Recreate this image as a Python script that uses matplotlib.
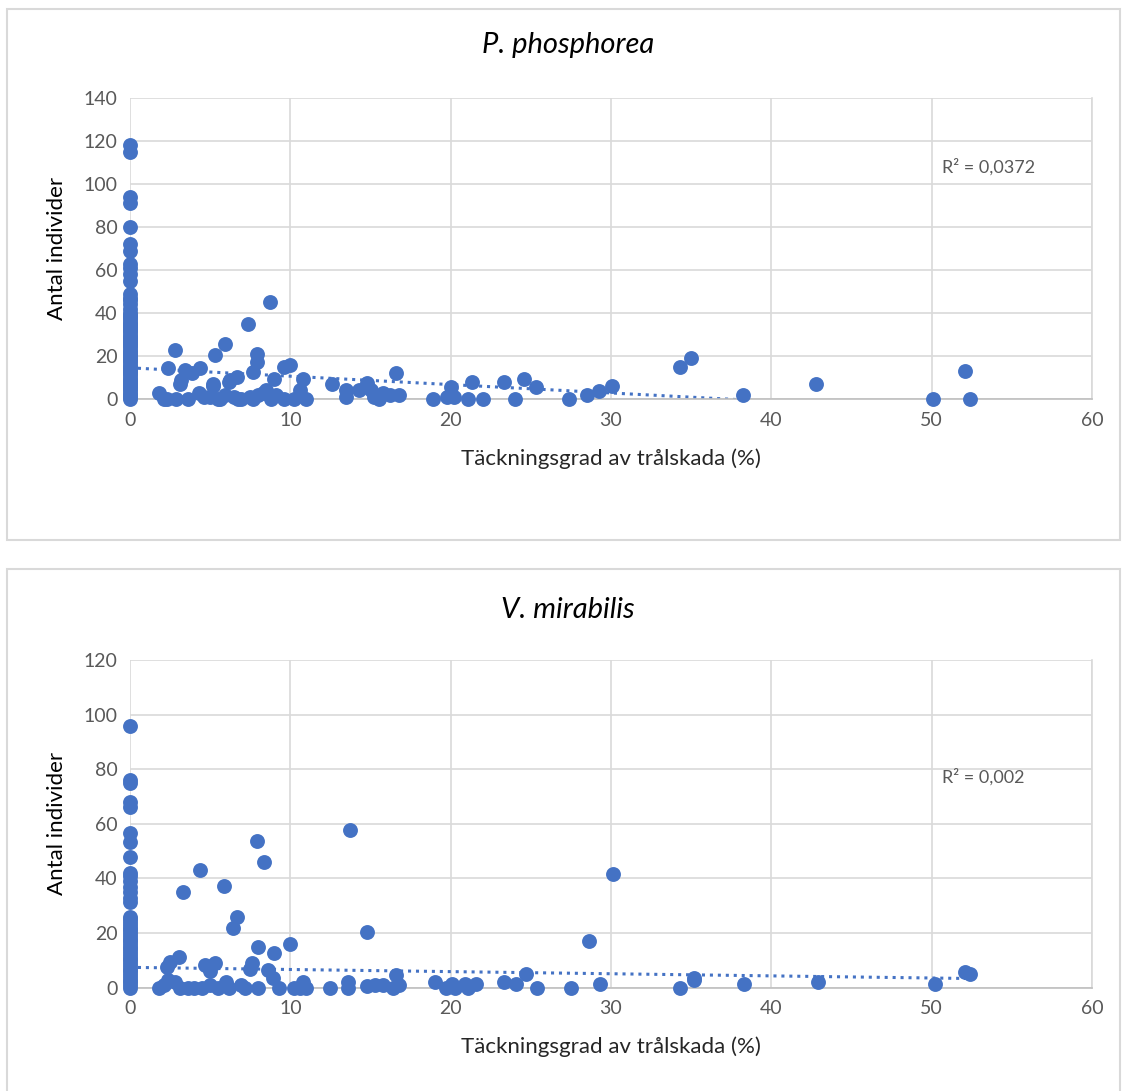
import numpy as np
import matplotlib.pyplot as plt
from matplotlib.patches import Rectangle

plt.rcParams['font.family'] = ['Lato', 'DejaVu Sans']

# --- P. phosphorea ---
pp_zero_y = [118, 115, 94, 91, 80, 72, 69, 63, 61, 58, 55, 49, 47, 46, 44, 42, 40, 39,
             38, 37, 36, 35, 34, 33, 32, 31, 30, 29, 28, 27, 26, 25, 24, 23, 22, 21,
             20, 19, 18, 17, 16, 15, 14, 13, 12, 11, 10, 9, 8, 7, 6, 5, 4, 3, 2, 1, 0]
pp_x = [1.8, 2.1, 2.3, 2.4, 2.8, 2.9, 3.1, 3.2, 3.4, 3.6, 3.85, 4.3, 4.37, 4.6, 5.0, 5.2,
        5.2, 5.3, 5.5, 5.6, 5.9, 5.9, 6.2, 6.24, 6.5, 6.65, 6.75, 6.9, 7.38, 7.5, 7.7, 7.7,
        7.9, 7.95, 8.0, 8.3, 8.5, 8.73, 8.8, 9.0, 9.1, 9.6, 9.6, 10.0, 10.2, 10.6, 10.77,
        11.0, 12.6, 13.5, 13.5, 14.3, 14.8, 15.0, 15.2, 15.5, 15.8, 16.2, 16.6, 16.8, 18.9,
        19.76, 20.0, 20.2, 21.1, 21.3, 22.0, 23.3, 24.0, 24.6, 25.3, 27.4, 28.5, 29.25,
        30.05, 34.3, 35.0, 38.26, 42.8, 50.1, 52.1, 52.4]
pp_y = [2.6, 0, 0, 14.3, 23, 0, 7, 9, 13.5, 0, 12, 3, 14.3, 1, 1, 7.2,
        6, 20.3, 0, 0, 25.4, 2, 8, 9, 1, 10.4, 0, 0, 35, 1, 0, 12.7,
        21, 17.4, 2, 3, 4, 45, 0, 9.3, 2, 15, 0, 16, 0, 4.2, 9.3,
        0, 7, 4.2, 1, 4, 7.3, 4, 1, 0, 2.6, 2, 12.2, 2, 0,
        0.8, 5.7, 0.8, 0, 8, 0, 8, 0, 9.3, 5.7, 0, 1.9, 3.7,
        6, 14.7, 19, 1.9, 6.8, 0, 13, 0]
pp_trend = (14.5, -0.39)   # intercept, slope
pp_r2 = "R² = 0,0372"

# --- V. mirabilis ---
vm_zero_y = [96, 76, 75, 68, 66, 56.5, 53.5, 48, 42, 41, 39, 37, 35, 33, 31.5, 26, 25,
             24, 23, 22, 21, 20, 19, 18, 17, 16, 15, 14, 13, 12, 11, 10, 9, 8, 7, 6, 5,
             4, 3, 2, 1, 0]
vm_x = [1.8, 2.1, 2.3, 2.4, 2.5, 2.8, 3.07, 3.1, 3.28, 3.6, 4.0, 4.37, 4.5, 4.68, 5.0, 5.0,
        5.3, 5.5, 5.88, 6.0, 6.2, 6.4, 6.65, 6.9, 7.2, 7.5, 7.6, 7.9, 7.97, 8.0, 8.36, 8.6,
        8.9, 9.0, 9.3, 9.98, 10.2, 10.6, 10.8, 11.0, 12.5, 13.6, 13.6, 13.72, 14.77, 14.8,
        15.3, 15.8, 16.4, 16.6, 16.8, 19.0, 19.7, 20.1, 20.3, 20.9, 21.1, 21.6, 23.3, 24.1,
        24.7, 25.4, 27.5, 28.6, 29.3, 30.13, 34.3, 35.2, 35.2, 38.3, 42.9, 50.2, 52.1, 52.4]
vm_y = [0, 1, 7.5, 3, 9.5, 2, 11.4, 0, 35.2, 0, 0, 43.1, 0, 8.3, 6, 1,
        9.2, 0, 37.3, 2, 0, 22, 25.8, 1, 0, 7, 9.2, 53.9, 15, 0, 46.2, 6.5,
        3.5, 12.8, 0, 16, 0, 0, 2, 0, 0, 2, 0, 57.8, 20.3, 0.5,
        1, 1, 0, 4.6, 1, 2, 0, 1.5, 0, 1.5, 0, 1.5, 2, 1.5,
        5, 0, 0, 17.2, 1.3, 41.6, 0, 2.8, 3.6, 1.3, 2, 1.3, 5.9, 5]
vm_trend = (7.45, -0.078)
vm_r2 = "R² = 0,002"

W, H = 1122, 1091
fig = plt.figure(figsize=(W / 100, H / 100), dpi=100)

# chart area borders
for top, bot in [(9, 540), (569, 1100)]:
    fig.patches.append(Rectangle((7 / W, 1 - bot / H), (1120 - 7) / W, (bot - top) / H,
                                 transform=fig.transFigure, fill=False,
                                 edgecolor='#D9D9D9', linewidth=1.5))

blue = '#4472C4'
grey_txt = '#595959'


def panel(rect, title, title_y, y0, x, y, trend, r2, r2_y, ymax):
    ax = fig.add_axes(rect)
    xs = [0] * len(y0) + list(x)
    ys = list(y0) + list(y)
    ax.scatter(xs, ys, s=115, color=blue, zorder=3, linewidths=0, clip_on=False)
    tx = np.array([0, max(xs)])
    ax.plot(tx, trend[0] + trend[1] * tx, linestyle=(0, (1, 1.6)), color=blue,
            linewidth=2.2, zorder=2)
    ax.set_xlim(0, 60)
    ax.set_ylim(0, ymax)
    ax.set_xticks(range(0, 61, 10))
    ax.set_yticks(range(0, ymax + 1, 20))
    ax.grid(True, color='#D9D9D9', linewidth=1.2, zorder=0)
    ax.set_axisbelow(True)
    for s in ['top', 'left']:
        ax.spines[s].set_visible(False)
    ax.spines['right'].set_color('#D9D9D9')
    ax.spines['right'].set_linewidth(1.2)
    ax.spines['bottom'].set_color('#BFBFBF')
    ax.spines['bottom'].set_linewidth(1.2)
    ax.tick_params(length=0, labelsize=14, labelcolor=grey_txt, pad=9)
    ax.set_xlabel("Täckningsgrad av trålskada (%)", fontsize=16, color='#262626', labelpad=14)
    ax.set_ylabel("Antal individer", fontsize=16, color='#000000', labelpad=12)
    ax.text(50.65, r2_y, r2, fontsize=13, color=grey_txt, va='center')
    fig.text(568 / W, 1 - title_y / H, title, fontsize=21, style='italic',
             ha='center', va='center', color='#000000')
    return ax


panel([130 / W, 1 - 399 / H, 962 / W, 301 / H], "P. phosphorea", 45,
      pp_zero_y, pp_x, pp_y, pp_trend, pp_r2, 108, 140)
panel([130 / W, 1 - 987.7 / H, 962 / W, 327.7 / H], "V. mirabilis", 610,
      vm_zero_y, vm_x, vm_y, vm_trend, vm_r2, 77, 120)

fig.savefig("out.png", dpi=100)
